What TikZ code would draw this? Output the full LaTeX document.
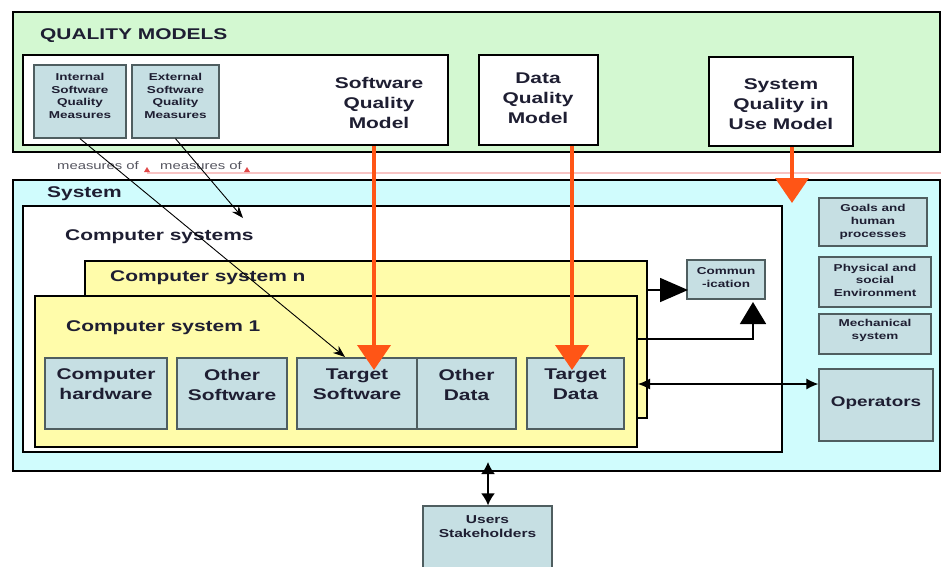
\documentclass[tikz,border=0pt]{standalone}
\usepackage{fontspec}
\setmainfont{Liberation Sans}[FakeStretch=1.35]
\usetikzlibrary{arrows.meta,fit}
\definecolor{qgreen}{HTML}{D3F8D1}
\definecolor{syscyan}{HTML}{D0FCFD}
\definecolor{csyellow}{HTML}{FFFCAA}
\definecolor{partblue}{HTML}{C6DFE3}
\definecolor{partedge}{HTML}{4F5E60}
\definecolor{ink}{HTML}{1E1E32}
\definecolor{qorange}{HTML}{FF5516}
\definecolor{pinkline}{HTML}{F8C4C4}
\definecolor{tickred}{HTML}{E04848}
\definecolor{meastext}{HTML}{55555F}
\begin{document}
\begin{tikzpicture}[x=1pt,y=-1pt,
  frame/.style={draw=black, line width=2pt, inner sep=0pt},
  part/.style={draw=partedge, line width=1.3pt, fill=partblue, inner sep=0pt},
  bigtxt/.style={font=\bfseries\fontsize{15.5}{20}\selectfont, text=ink, align=center, inner sep=0pt},
  midtxt/.style={font=\bfseries\fontsize{11.5}{14}\selectfont, text=ink, align=center, inner sep=0pt},
  smalltxt/.style={font=\bfseries\fontsize{10}{12.5}\selectfont, text=ink, align=center, inner sep=0pt},
  meas/.style={font=\fontsize{11}{13}\selectfont, text=meastext, inner sep=0pt},
  qarrow/.style={color=qorange, line width=4pt, -{Triangle[width=33pt,length=25pt]}},
  measarrow/.style={line width=0.9pt, -{Stealth[length=12pt,width=9pt]}},
  bigtip/.style={line width=1.6pt, -{Triangle[width=24pt,length=28pt]}},
  uptip/.style={line width=1.6pt, -{Triangle[width=26pt,length=22pt]}},
  twoway/.style={line width=1.2pt, {Latex[length=12pt,width=11pt]}-{Latex[length=12pt,width=11pt]}},
  userway/.style={line width=1.8pt, {Latex[length=12pt,width=14pt]}-{Latex[length=12pt,width=14pt]}}]
\useasboundingbox (0,0) rectangle (941,566);
\clip (0,0) rectangle (941,566);

% quality models band
\node[frame, fill=qgreen, fit={(13,12) (940,152)}] (qm) {};
\node[bigtxt, anchor=west] (qmt) at (40,36) {QUALITY MODELS};
\node[frame, fill=white, fit={(23,55) (448,145)}] (sqm) {};
\node[bigtxt] (sqmt) at (379,102.5) {Software\\Quality\\Model};
\node[part, fit={(34,65) (126,138)}] (int) {};
\node[smalltxt] (intt) at (80,96) {Internal\\Software\\Quality\\Measures};
\node[part, fit={(132,65) (219,138)}] (ext) {};
\node[smalltxt] (extt) at (175.5,96) {External\\Software\\Quality\\Measures};
\node[frame, fill=white, fit={(479,55) (598,145)}] (dqm) {};
\node[bigtxt] (dqmt) at (538,98.5) {Data\\Quality\\Model};
\node[frame, fill=white, fit={(709,57) (853,146)}] (squ) {};
\node[bigtxt] (squt) at (781,104.5) {System\\Quality in\\Use Model};

% measures-of labels
\draw[pinkline, line width=1.5pt] (147,173) -- (941,173);
\node[meas] (m1) at (98,166) {measures of};
\node[meas] (m2) at (201,166) {measures of};
\fill[tickred] (144,172) -- (150,172) -- (147,167) -- cycle;
\fill[tickred] (244,172) -- (250,172) -- (247,167) -- cycle;

% system
\node[frame, fill=syscyan, fit={(13,180) (940,471)}] (sys) {};
\node[bigtxt, anchor=west] (syst) at (47,194) {System};
\node[frame, fill=white, fit={(23,206) (782,452)}] (cs) {};
\node[bigtxt, anchor=west] (cst) at (65,237) {Computer systems};
\node[frame, fill=csyellow, fit={(85,261) (647,418)}] (csn) {};
\node[bigtxt, anchor=west] (csnt) at (110,277.5) {Computer system n};
\node[frame, fill=csyellow, fit={(35,296) (637,447)}] (cs1) {};
\node[bigtxt, anchor=west] (cs1t) at (66,327.5) {Computer system 1};

% parts of computer system 1
\node[part, fit={(45,358) (167,429)}] (hw) {};
\node[bigtxt] (hwt) at (106,384.5) {Computer\\hardware};
\node[part, fit={(177,358) (287,429)}] (osw) {};
\node[bigtxt] (oswt) at (232,384.5) {Other\\Software};
\node[part, fit={(297,358) (417,429)}] (tsw) {};
\node[bigtxt] (tswt) at (357,384.5) {Target\\Software};
\node[part, fit={(417,358) (516,429)}] (odat) {};
\node[bigtxt] (odatt) at (466.5,384.5) {Other\\Data};
\node[part, fit={(527,358) (624,429)}] (tdat) {};
\node[bigtxt] (tdatt) at (575.5,384.5) {Target\\Data};

% communication and environment
\node[part, fit={(687,260) (765,299)}] (comm) {};
\node[smalltxt] (commt) at (726,277.5) {Commun\\-ication};
\node[part, fit={(819,198) (927,246)}] (goals) {};
\node[smalltxt, font=\bfseries\fontsize{10}{13}\selectfont] (goalst) at (873,221.5) {Goals and\\human\\processes};
\node[part, fit={(819,257) (931,307)}] (phys) {};
\node[smalltxt] (physt) at (875,280) {Physical and\\social\\Environment};
\node[part, fit={(819,314) (931,354)}] (mech) {};
\node[smalltxt] (mecht) at (875,330.5) {Mechanical\\system};
\node[part, fit={(819,369) (933,441)}] (oper) {};
\node[bigtxt, font=\bfseries\fontsize{14}{17}\selectfont] (opert) at (876,403) {Operators};
\node[part, fit={(423,506) (552,580)}] (users) {};
\node[midtxt] (userst) at (487.5,526.5) {Users\\Stakeholders};

% quality model arrows
\coordinate (tswtip) at (374,370);
\draw[qarrow] (sqm.south -| tswtip) -- (tswtip);
\coordinate (tdattip) at (572,370);
\draw[qarrow] (dqm.south -| tdattip) -- (tdattip);
\coordinate (systip) at (792,203);
\draw[qarrow] (squ.south -| systip) -- (systip);

% measures-of arrows
\coordinate (mtip1) at (345,357);
\draw[measarrow] (int.south) -- (mtip1);
\coordinate (mtip2) at (243,218);
\draw[measarrow] (ext.south) -- (mtip2);

% links to communication, operators and users
\coordinate (cnin) at (688,290);
\draw[bigtip] (csn.east |- cnin) -- (cnin);
\coordinate (cbin) at (753,302);
\draw[uptip] (cs1.east |- 0,339) -| (cbin);
\draw[twoway] (cs1.east |- 0,384) -- (oper.west |- 0,384);
\coordinate (usertop) at (488,462);
\draw[userway] (usertop) -- (users.north -| usertop);
\end{tikzpicture}
\end{document}
